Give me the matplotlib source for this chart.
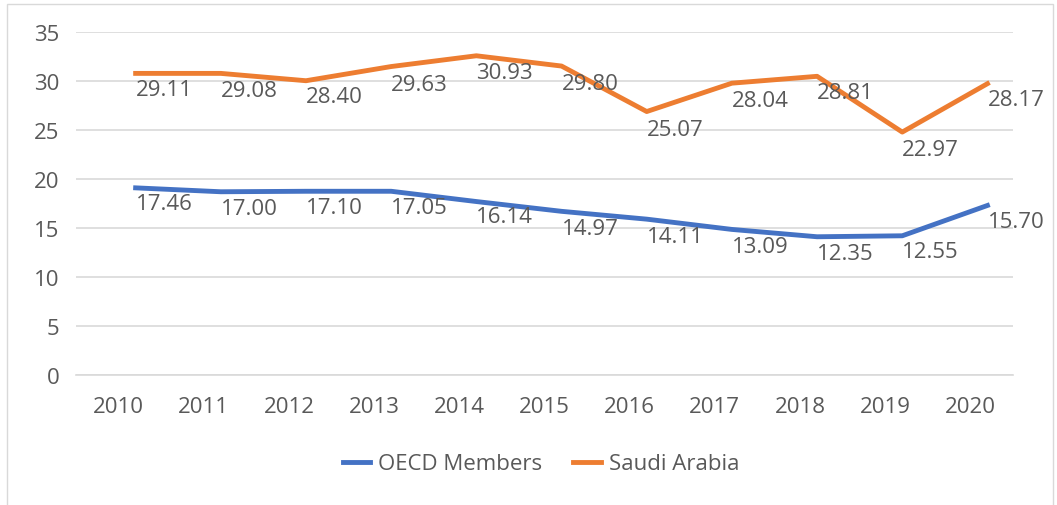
import matplotlib
matplotlib.use("Agg")
import matplotlib.pyplot as plt
from matplotlib.patches import Rectangle

years = ["2010", "2011", "2012", "2013", "2014", "2015", "2016", "2017", "2018", "2019", "2020"]

# line values as drawn
oecd = [19.1, 18.7, 18.75, 18.75, 17.7, 16.7, 15.9, 14.85, 14.1, 14.2, 17.3]
saudi = [30.8, 30.8, 30.05, 31.5, 32.6, 31.55, 26.9, 29.8, 30.5, 24.8, 29.75]

# data labels as printed
oecd_labels = [17.46, 17.00, 17.10, 17.05, 16.14, 14.97, 14.11, 13.09, 12.35, 12.55, 15.70]
saudi_labels = [29.11, 29.08, 28.40, 29.63, 30.93, 29.80, 25.07, 28.04, 28.81, 22.97, 28.17]

blue = "#4472C4"
orange = "#ED7D31"
grey = "#595959"
grid = "#D9D9D9"
fs = 16

plt.rcParams['font.family'] = ['Open Sans', 'DejaVu Sans']

fig = plt.figure(figsize=(10.57, 5.06), dpi=100)
ax = fig.add_axes([76 / 1057, 1 - 375.7 / 506, 937 / 1057, (375.7 - 33.3) / 506])

x = [i + 0.2 for i in range(len(years))]
ax.plot(x, oecd, color=blue, lw=3.5, label="OECD Members", solid_joinstyle="round")
ax.plot(x, saudi, color=orange, lw=3.5, label="Saudi Arabia", solid_joinstyle="round")

for xi, v in zip(x, oecd_labels):
    ax.text(xi, v, f"{v:.2f}", ha="left", va="center", fontsize=fs, color=grey, clip_on=False)
for xi, v in zip(x, saudi_labels):
    ax.text(xi, v, f"{v:.2f}", ha="left", va="center", fontsize=fs, color=grey, clip_on=False)

ax.set_xlim(-0.5, len(years) - 0.5)
ax.set_ylim(0, 35)
ax.set_xticks(range(len(years)))
ax.set_xticklabels(years)
ax.set_yticks(range(0, 36, 5))
ax.tick_params(axis="both", length=0, labelsize=fs, labelcolor=grey)
ax.tick_params(axis="y", pad=12)
ax.tick_params(axis="x", pad=15)
ax.grid(axis="y", color=grid, lw=1.2)
ax.set_axisbelow(True)
for s in ["top", "right", "left"]:
    ax.spines[s].set_visible(False)
ax.spines["bottom"].set_color(grid)
ax.spines["bottom"].set_linewidth(1.2)

fig.legend(loc="center", bbox_to_anchor=(541 / 1057, 1 - 465 / 506), ncol=2, frameon=False,
           fontsize=fs, labelcolor=grey, handlelength=1.25, handletextpad=0.35, columnspacing=1.4)

fig.patches.append(Rectangle((7 / 1057, -0.01), (1053 - 7) / 1057, 1.01 - 5 / 506,
                             transform=fig.transFigure, fill=False, edgecolor=grid, lw=1))

fig.savefig("out.png", dpi=100)
